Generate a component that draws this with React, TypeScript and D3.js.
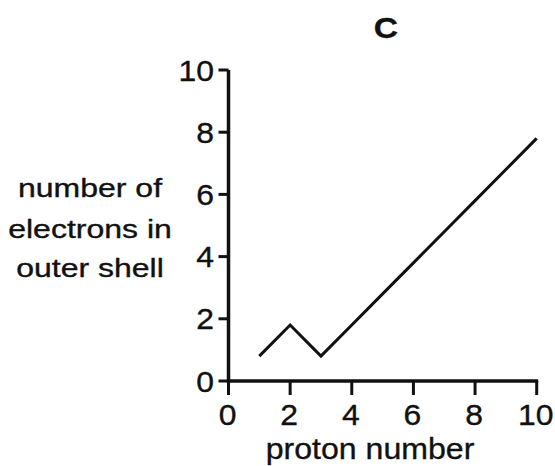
import * as d3 from 'd3'

const protons = [1, 2, 3, 4, 5, 6, 7, 8, 9, 10];
const outerElectrons = [0.8, 1.8, 0.8, 1.8, 2.8, 3.8, 4.8, 5.8, 6.8, 7.8];
const xTicks = [0, 2, 4, 6, 8, 10];
const yTicks = [0, 2, 4, 6, 8, 10];
const yLabelLines = ['number of', 'electrons in', 'outer shell'];

function App() {
  const width = 555;
  const height = 466;
  const font = '"Liberation Sans", Arial, sans-serif';

  const x = d3.scaleLinear().domain([0, 10]).range([228.5, 536.7]);
  const y = d3.scaleLinear().domain([0, 10]).range([381, 70]);

  const line = d3.line<number>()
    .x((_, i) => x(protons[i]))
    .y(d => y(d));

  // scanned text is a bit wide and heavy, so stretch it and give it a thin stroke
  const Txt = ({ tx, ty, anchor, size, sx, weight, children }: any) => (
    <text
      transform={`translate(${tx},${ty}) scale(${sx},1)`}
      textAnchor={anchor}
      fontSize={size}
      fontWeight={weight || 'normal'}
      fontFamily={font}
      fill="#111"
      stroke="#111"
      strokeWidth={0.35}
    >
      {children}
    </text>
  );

  return (
    <svg width={width} height={height} style={{ position: 'absolute', left: 0, top: 0, background: '#fff' }}>
      <Txt tx={386} ty={38} anchor="middle" size={30} sx={1.12} weight="bold">C</Txt>

      {yTicks.map(t => (
        <g key={'y' + t}>
          <line x1={x(0) - 10} x2={x(0)} y1={y(t)} y2={y(t)} stroke="#111" strokeWidth={3} />
          <Txt tx={214} ty={y(t) + 10.5} anchor="end" size={29} sx={1.1}>{t}</Txt>
        </g>
      ))}

      {xTicks.map(t => (
        <g key={'x' + t}>
          <line x1={x(t)} x2={x(t)} y1={y(0)} y2={y(0) + 14} stroke="#111" strokeWidth={3} />
          <Txt tx={x(t) - 1} ty={425} anchor="middle" size={29} sx={1.1}>{t}</Txt>
        </g>
      ))}

      {/* axes */}
      <line x1={x(0)} x2={x(0)} y1={y(10)} y2={y(0) + 2} stroke="#111" strokeWidth={3.5} />
      <line x1={x(0)} x2={x(10) + 1.5} y1={y(0)} y2={y(0)} stroke="#111" strokeWidth={3.5} />

      <Txt tx={370} ty={459} anchor="middle" size={30} sx={1.07}>proton number</Txt>

      {yLabelLines.map((l, i) => (
        <Txt key={l} tx={90} ty={[197, 238, 277][i]} anchor="middle" size={25} sx={1.28}>{l}</Txt>
      ))}

      <path d={line(outerElectrons) || ''} fill="none" stroke="#111" strokeWidth={3} strokeLinejoin="miter" />
    </svg>
  );
}

export default App;
